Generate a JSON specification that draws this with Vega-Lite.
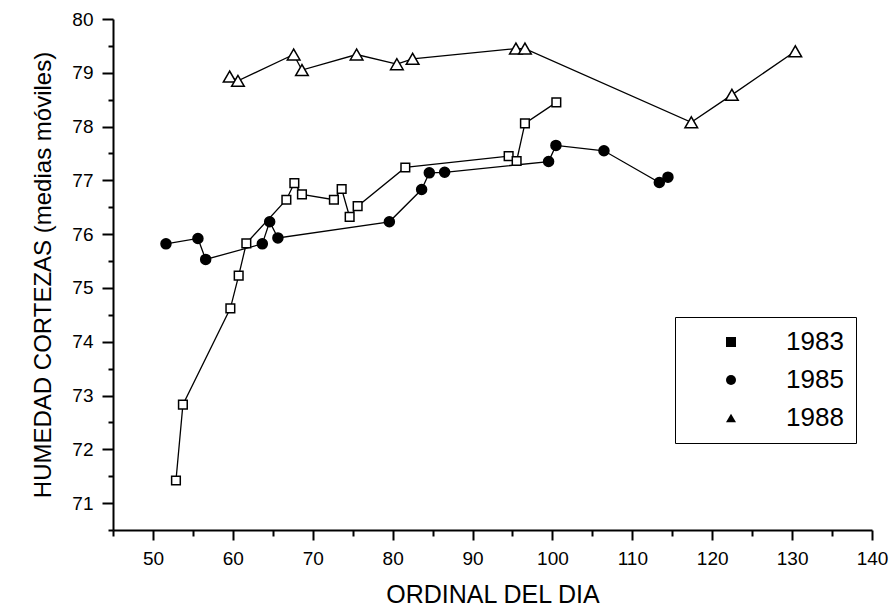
{
  "$schema": "https://vega.github.io/schema/vega-lite/v6.json",
  "width": 759,
  "height": 511,
  "autosize": {"type": "none"},
  "padding": {"left": 113, "top": 19, "right": 20, "bottom": 81},
  "background": "white",
  "config": {
    "view": {"stroke": null},
    "axis": {
      "grid": false,
      "domainColor": "black",
      "domainWidth": 2,
      "tickColor": "black",
      "tickWidth": 2,
      "labelColor": "black",
      "titleColor": "black",
      "labelFont": "Liberation Sans",
      "titleFont": "Liberation Sans",
      "labelFontSize": 19,
      "titleFontWeight": "normal"
    },
    "legend": {
      "orient": "none",
      "legendX": 562,
      "legendY": 298,
      "padding": 12,
      "strokeColor": "black",
      "fillColor": "white",
      "symbolSize": 100,
      "symbolStrokeColor": "black",
      "symbolStrokeWidth": 1.5,
      "symbolOffset": 31,
      "labelOffset": 42,
      "labelFontSize": 26,
      "labelFont": "Liberation Sans",
      "labelColor": "black",
      "rowPadding": 12
    }
  },
  "data": {
    "values": [
      {"year": "1983", "day": 52.88, "hum": 71.42},
      {"year": "1983", "day": 53.75, "hum": 72.83},
      {"year": "1983", "day": 59.69, "hum": 74.62},
      {"year": "1983", "day": 60.73, "hum": 75.23},
      {"year": "1983", "day": 61.69, "hum": 75.83},
      {"year": "1983", "day": 66.7, "hum": 76.64},
      {"year": "1983", "day": 67.7, "hum": 76.95},
      {"year": "1983", "day": 68.65, "hum": 76.74},
      {"year": "1983", "day": 72.65, "hum": 76.64},
      {"year": "1983", "day": 73.62, "hum": 76.84},
      {"year": "1983", "day": 74.62, "hum": 76.32},
      {"year": "1983", "day": 75.62, "hum": 76.52},
      {"year": "1983", "day": 81.59, "hum": 77.24},
      {"year": "1983", "day": 94.52, "hum": 77.45},
      {"year": "1983", "day": 95.52, "hum": 77.36},
      {"year": "1983", "day": 96.56, "hum": 78.06},
      {"year": "1983", "day": 100.49, "hum": 78.45},
      {"year": "1985", "day": 51.63, "hum": 75.82},
      {"year": "1985", "day": 55.63, "hum": 75.92},
      {"year": "1985", "day": 56.6, "hum": 75.53},
      {"year": "1985", "day": 63.69, "hum": 75.82},
      {"year": "1985", "day": 64.61, "hum": 76.23},
      {"year": "1985", "day": 65.64, "hum": 75.93},
      {"year": "1985", "day": 79.59, "hum": 76.23},
      {"year": "1985", "day": 83.63, "hum": 76.83},
      {"year": "1985", "day": 84.59, "hum": 77.14},
      {"year": "1985", "day": 86.51, "hum": 77.15},
      {"year": "1985", "day": 99.52, "hum": 77.35},
      {"year": "1985", "day": 100.44, "hum": 77.65},
      {"year": "1985", "day": 106.45, "hum": 77.55},
      {"year": "1985", "day": 113.38, "hum": 76.96},
      {"year": "1985", "day": 114.46, "hum": 77.06},
      {"year": "1988", "day": 59.6, "hum": 78.93},
      {"year": "1988", "day": 60.64, "hum": 78.85},
      {"year": "1988", "day": 67.61, "hum": 79.34},
      {"year": "1988", "day": 68.65, "hum": 79.05},
      {"year": "1988", "day": 75.49, "hum": 79.34},
      {"year": "1988", "day": 80.53, "hum": 79.16},
      {"year": "1988", "day": 82.5, "hum": 79.26},
      {"year": "1988", "day": 95.43, "hum": 79.45},
      {"year": "1988", "day": 96.56, "hum": 79.45},
      {"year": "1988", "day": 117.38, "hum": 78.08},
      {"year": "1988", "day": 122.46, "hum": 78.59},
      {"year": "1988", "day": 130.4, "hum": 79.4}
    ]
  },
  "layer": [
    {
      "mark": {"type": "line", "color": "black", "strokeWidth": 1.3},
      "encoding": {
        "x": {
          "field": "day", "type": "quantitative",
          "scale": {"domain": [45, 140], "nice": false, "zero": false},
          "axis": {
            "orient": "bottom",
            "values": [50, 60, 70, 80, 90, 100, 110, 120, 130, 140],
            "tickSize": 10, "labelPadding": 9, "labelFlush": false,
            "title": "ORDINAL DEL DIA", "titleFontSize": 25, "titlePadding": 14
          }
        },
        "y": {
          "field": "hum", "type": "quantitative",
          "scale": {"domain": [70.5, 80], "nice": false, "zero": false},
          "axis": {
            "orient": "left",
            "values": [71, 72, 73, 74, 75, 76, 77, 78, 79, 80],
            "tickSize": 11, "labelPadding": 9, "labelFlush": false,
            "title": "HUMEDAD CORTEZAS (medias móviles)", "titleFontSize": 24, "titlePadding": 16
          }
        },
        "detail": {"field": "year", "type": "nominal"}
      }
    },
    {
      "mark": {"type": "point", "filled": true, "stroke": "black", "strokeWidth": 1.5, "opacity": 1},
      "encoding": {
        "x": {
          "field": "day", "type": "quantitative",
          "scale": {"domain": [45, 140], "nice": false, "zero": false},
          "axis": {
            "orient": "bottom",
            "values": [45, 55, 65, 75, 85, 95, 105, 115, 125, 135],
            "tickSize": 6, "labels": false, "domain": false, "title": null
          }
        },
        "y": {
          "field": "hum", "type": "quantitative",
          "scale": {"domain": [70.5, 80], "nice": false, "zero": false},
          "axis": {
            "orient": "left",
            "values": [70.5, 71.5, 72.5, 73.5, 74.5, 75.5, 76.5, 77.5, 78.5, 79.5],
            "tickSize": 5, "labels": false, "domain": false, "title": null
          }
        },
        "shape": {
          "field": "year", "type": "nominal",
          "scale": {"domain": ["1983", "1985", "1988"], "range": ["square", "circle", "triangle-up"]},
          "legend": {"title": null}
        },
        "fill": {
          "condition": {"test": "datum.year != '1985'", "value": "white"},
          "value": "black"
        },
        "size": {
          "condition": [
            {"test": "datum.year == '1983'", "value": 75},
            {"test": "datum.year == '1985'", "value": 100}
          ],
          "value": 160
        }
      }
    }
  ],
  "resolve": {
    "axis": {"x": "independent", "y": "independent"}
  }
}
